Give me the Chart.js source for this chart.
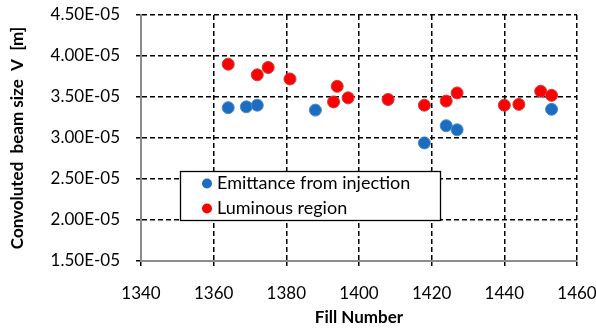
<!DOCTYPE html>
<html>
<head>
<meta charset="utf-8">
<script src="https://cdn.jsdelivr.net/npm/chart.js@4.4.0/dist/chart.umd.min.js"></script>
<style>
html, body { margin: 0; padding: 0; background: #fff; }
#wrap { width: 596px; height: 330px; }
</style>
</head>
<body>
<div id="wrap"><canvas id="mycanvas"></canvas></div>
<script>
// fill numbers and convoluted beam size
var injFill = [1364, 1369, 1372, 1388, 1418, 1424, 1427, 1453];
var injSize = [3.37e-5, 3.38e-5, 3.40e-5, 3.34e-5, 2.94e-5, 3.15e-5, 3.10e-5, 3.35e-5];
var lumFill = [1364, 1372, 1375, 1381, 1393, 1394, 1397, 1408, 1418, 1424, 1427, 1440, 1444, 1450, 1453];
var lumSize = [3.90e-5, 3.77e-5, 3.86e-5, 3.72e-5, 3.44e-5, 3.63e-5, 3.49e-5, 3.47e-5, 3.40e-5, 3.45e-5, 3.55e-5, 3.40e-5, 3.41e-5, 3.57e-5, 3.52e-5];
var seriesNames = ["Emittance from injection", "Luminous region"];
var xTicks = [1340, 1360, 1380, 1400, 1420, 1440, 1460];
var yTicks = [1.5e-5, 2.0e-5, 2.5e-5, 3.0e-5, 3.5e-5, 4.0e-5, 4.5e-5];

function toPoints(xs, ys) {
  var pts = [];
  for (var i = 0; i < xs.length; i++) pts.push({x: xs[i], y: ys[i]});
  return pts;
}

function sci(v) {
  var e = Math.floor(Math.log10(v) + 1e-9);
  var m = v / Math.pow(10, e);
  var es = Math.abs(e) < 10 ? "0" + Math.abs(e) : "" + Math.abs(e);
  return m.toFixed(2) + "E" + (e < 0 ? "-" : "+") + es;
}

var FONT = "Lato";

// legend box sitting inside the plot
var boxLegend = {
  id: "boxLegend",
  afterDraw: function(chart) {
    var ctx = chart.ctx;
    var x0 = 180.5, y0 = 171.5, w = 260, h = 49;
    ctx.save();
    ctx.fillStyle = "#fff";
    ctx.fillRect(x0, y0, w, h);
    ctx.strokeStyle = "#000";
    ctx.lineWidth = 1.3;
    ctx.strokeRect(x0, y0, w, h);
    chart.data.datasets.forEach(function(ds, i) {
      var cy = 183.5 + i * 25;
      ctx.beginPath();
      ctx.arc(207, cy, 5, 0, Math.PI * 2);
      ctx.fillStyle = ds.backgroundColor;
      ctx.fill();
      ctx.fillStyle = "#000";
      ctx.font = "18px " + FONT;
      ctx.textBaseline = "middle";
      ctx.textAlign = "left";
      ctx.fillText(ds.label, 217, cy);
    });
    ctx.restore();
  }
};

var ctx = document.getElementById("mycanvas");
var chart = new Chart(ctx, {
  type: "scatter",
  data: {
    datasets: [
      {
        label: seriesNames[0],
        data: toPoints(injFill, injSize),
        backgroundColor: "#1c6cc0",
        borderColor: "#4a8ad0",
        borderWidth: 1,
        pointRadius: 6,
        pointHoverRadius: 6
      },
      {
        label: seriesNames[1],
        data: toPoints(lumFill, lumSize),
        backgroundColor: "#ff0000",
        borderColor: "#c94040",
        borderWidth: 1,
        pointRadius: 6,
        pointHoverRadius: 6
      }
    ]
  },
  options: {
    responsive: true,
    maintainAspectRatio: false,
    animation: false,
    layout: { padding: { top: 15, right: 19, left: 0, bottom: 0 } },
    plugins: { legend: { display: false }, tooltip: { enabled: false } },
    scales: {
      x: {
        type: "linear",
        min: 1340, max: 1460,
        afterBuildTicks: function(s) { s.ticks = xTicks.map(function(v) { return {value: v}; }); },
        afterFit: function(s) { s.height = 69; s.paddingLeft = 0; s.paddingRight = 0; },
        ticks: { color: "#000", font: { family: FONT, size: 17 }, padding: 17, maxRotation: 0, callback: function(v) { return String(v); } },
        grid: { color: "#000", lineWidth: 1.5, tickLength: 5 },
        border: { display: true, color: "#8c8c8c", width: 2, dash: [5, 3] },
        title: { display: true, text: "Fill Number", color: "#000", font: { family: FONT, size: 17, weight: "bold" }, padding: { top: 0, bottom: 2 } }
      },
      y: {
        type: "linear",
        min: 1.5e-5, max: 4.5e-5,
        afterBuildTicks: function(s) { s.ticks = yTicks.map(function(v) { return {value: v}; }); },
        afterFit: function(s) { s.width = 141; s.paddingTop = 0; s.paddingBottom = 0; },
        ticks: { color: "#000", font: { family: FONT, size: 17 }, padding: 16, callback: function(v) { return sci(v); } },
        grid: { color: "#000", lineWidth: 1.5, tickLength: 5 },
        border: { display: true, color: "#8c8c8c", width: 2, dash: [5, 3] },
        title: { display: true, text: "Convoluted  beam size  V  [m]", color: "#000", font: { family: FONT, size: 17, weight: "bold" }, padding: { top: 7, bottom: 0 } }
      }
    }
  },
  plugins: [boxLegend]
});
</script>
</body>
</html>
